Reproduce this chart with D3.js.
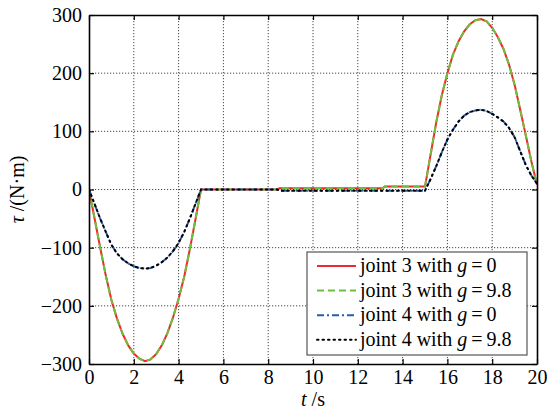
<!DOCTYPE html>
<html>
<head>
<meta charset="utf-8">
<script src="https://cdn.jsdelivr.net/npm/d3@7"></script>
<style>
  html, body { margin: 0; padding: 0; background: #fff; }
  svg { display: block; }
</style>
</head>
<body>
<svg id="chart" width="551" height="416"></svg>
<script>
// ---- data ----
const time = [0,0.25,0.5,0.75,1,1.25,1.5,1.75,2,2.25,2.5,2.75,3,3.25,3.5,3.75,4,4.25,4.5,4.75,5,
  8.4,8.5,13.1,13.2,15,15.25,15.5,15.75,16,16.25,16.5,16.75,17,17.25,17.5,17.75,18,18.25,18.5,18.75,19,19.25,19.5,19.75,20];
const joint3_g0 = [0,-50,-100,-148,-190,-222,-248,-268,-282,-291,-295,-292,-283,-268,-247,-220,-188,-150,-103,-52,0,
  0,2,2,5,5,60,115,162,200,232,255,272,284,291,293,289,278,262,242,215,180,137,93,48,8];
const joint3_g98 = [0,-50,-100,-148,-190,-222,-248,-268,-282,-291,-295,-292,-283,-268,-247,-220,-188,-150,-103,-52,0,
  0,2,2,5,5,60,115,162,200,232,255,272,284,291,293,289,278,262,242,215,180,137,93,48,8];
const joint4_g0 = [0,-25,-50,-73,-95,-110,-120,-127,-132,-135,-136,-135,-131,-125,-117,-106,-92,-73,-50,-25,0,
  0,-2,-2,-2,-2,18,40,64,86,103,117,127,133,136,137,135,130,124,117,106,90,66,42,24,10];
const joint4_g98 = [0,-25,-50,-73,-95,-110,-120,-127,-132,-135,-136,-135,-131,-125,-117,-106,-92,-73,-50,-25,0,
  0,-2,-2,-2,-2,18,40,64,86,103,117,127,133,136,137,135,130,124,117,106,90,66,42,24,10];
const xTicks = [0,2,4,6,8,10,12,14,16,18,20];
const yTicks = [-300,-200,-100,0,100,200,300];
const seriesNames = ["joint 3 with ", "joint 3 with ", "joint 4 with ", "joint 4 with "];
const gValues = ["0", "9.8", "0", "9.8"];

// ---- layout ----
const FONT = "Liberation Serif, Tinos, Times New Roman, Times, Nimbus Roman, Nimbus Roman No9 L, Noto Serif, DejaVu Serif, FreeSerif, serif";
const svg = d3.select("#chart");
const L = 89, R = 537, T = 15, B = 364;
const x = d3.scaleLinear().domain([0, 20]).range([L, R]);
const y = d3.scaleLinear().domain([-300, 300]).range([B, T]);

// grid
const grid = svg.append("g");
grid.selectAll("line.gx").data(xTicks.slice(1, -1)).join("line")
  .attr("x1", d => x(d)).attr("x2", d => x(d)).attr("y1", T).attr("y2", B)
  .attr("stroke", "#333").attr("stroke-width", 0.9).attr("stroke-dasharray", "1.2,1.8");
grid.selectAll("line.gy").data(yTicks.slice(1, -1)).join("line")
  .attr("y1", d => y(d)).attr("y2", d => y(d)).attr("x1", L).attr("x2", R)
  .attr("stroke", "#333").attr("stroke-width", 0.9).attr("stroke-dasharray", "1.2,1.8");

// curves
const mk = vals => d3.line().x((d, i) => x(time[i])).y(d => y(d))(vals);
const styles = [
  { data: joint3_g0, color: "#f0282d", dash: null, w: 2 },
  { data: joint3_g98, color: "#6cc03c", dash: "7,4", w: 2 },
  { data: joint4_g0, color: "#2a5caa", dash: "7,3,2,3", w: 2 },
  { data: joint4_g98, color: "#000", dash: "1.5,4", w: 2 }
];
svg.append("clipPath").attr("id", "clip").append("rect")
  .attr("x", L).attr("y", T - 2).attr("width", R - L).attr("height", B - T + 4);
const cg = svg.append("g").attr("clip-path", "url(#clip)");
styles.forEach(s => {
  cg.append("path").attr("d", mk(s.data)).attr("fill", "none")
    .attr("stroke", s.color).attr("stroke-width", s.w)
    .attr("stroke-dasharray", s.dash).attr("stroke-linecap", s.dash === "1.5,4" ? "round" : "butt");
});

// axes (ticks inward)
const fs = 20;
const axB = d3.axisBottom(x).tickValues(xTicks).tickSizeInner(-5).tickSizeOuter(0).tickPadding(6).tickFormat(d3.format("d"));
const axL = d3.axisLeft(y).tickValues(yTicks).tickSizeInner(-5).tickSizeOuter(0).tickPadding(7)
  .tickFormat(d => d < 0 ? "\u2212" + Math.abs(d) : d);
const axT = d3.axisTop(x).tickValues(xTicks).tickSizeInner(-5).tickSizeOuter(0).tickFormat("");
const axR = d3.axisRight(y).tickValues(yTicks).tickSizeInner(-5).tickSizeOuter(0).tickFormat("");
function style(g) {
  g.attr("font-family", FONT).attr("font-size", fs);
  g.select(".domain").attr("stroke", "#000").attr("stroke-width", 1.6);
  g.selectAll(".tick line").attr("stroke", "#000").attr("stroke-width", 1.2);
  g.selectAll("text").attr("font-size", fs).attr("fill", "#000").attr("font-family", FONT);
}
svg.append("g").attr("transform", `translate(0,${B})`).call(axB).call(style);
svg.append("g").attr("transform", `translate(${L},0)`).call(axL).call(style);
svg.append("g").attr("transform", `translate(0,${T})`).call(axT).call(style);
svg.append("g").attr("transform", `translate(${R},0)`).call(axR).call(style);

// axis titles
const xt = svg.append("text").attr("x", x(10)).attr("y", 406).attr("text-anchor", "middle")
  .attr("font-size", fs).attr("font-family", FONT);
xt.append("tspan").attr("font-style", "italic").text("t");
xt.append("tspan").text(" /s");
const yt = svg.append("text").attr("transform", `translate(24,${(T + B) / 2}) rotate(-90)`)
  .attr("text-anchor", "middle").attr("font-size", fs).attr("font-family", FONT);
yt.append("tspan").attr("font-style", "italic").text("τ");
yt.append("tspan").text(" /(N·m)");

// legend
const lg = svg.append("g");
const lx = 307, ly = 252, lw = 220, lh = 103;
lg.append("rect").attr("x", lx).attr("y", ly).attr("width", lw).attr("height", lh)
  .attr("fill", "#fff").attr("stroke", "#555").attr("stroke-width", 1.2);
styles.forEach((s, i) => {
  const cy = ly + 14 + i * 24.6;
  lg.append("line").attr("x1", lx + 10).attr("x2", lx + 49).attr("y1", cy).attr("y2", cy)
    .attr("stroke", s.color).attr("stroke-width", s.w).attr("stroke-dasharray", s.dash)
    .attr("stroke-linecap", s.dash === "1.5,4" ? "round" : "butt");
  const t = lg.append("text").attr("x", lx + 53).attr("y", cy + 6).attr("font-size", fs).attr("font-family", FONT);
  t.append("tspan").text(seriesNames[i]);
  t.append("tspan").attr("font-style", "italic").text("g");
  t.append("tspan").text("\u2009=\u2009" + gValues[i]);
});
</script>
</body>
</html>
